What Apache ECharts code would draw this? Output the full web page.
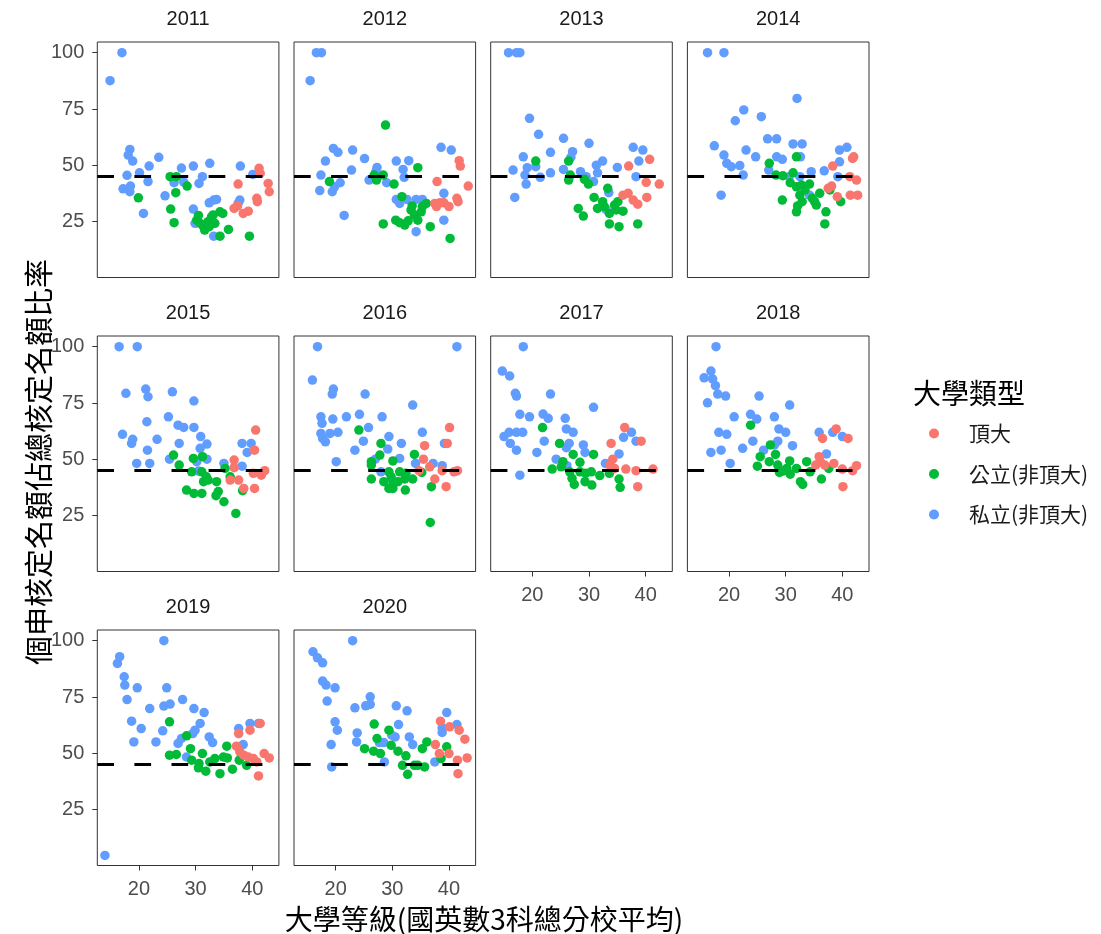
<!DOCTYPE html>
<html><head><meta charset="utf-8">
<script src="https://cdn.jsdelivr.net/npm/echarts@6/dist/echarts.min.js"></script>
<style>html,body{margin:0;padding:0;background:#fff}#c{width:1101px;height:934px}</style>
</head><body><div id="c"></div>
<script>
const years = [2011,2012,2013,2014,2015,2016,2017,2018,2019,2020];
const typeNames = ['頂大','公立(非頂大)','私立(非頂大)'];
const typeColors = ['#F8766D','#00BA38','#619CFF'];
const xTicks = [20,30,40];
const yTicks = [25,50,75,100];
const refLine = 45;
const xTitle = '大學等級(國英數3科總分校平均)';
const yTitle = '個申核定名額佔總核定名額比率';
const legendTitle = '大學類型';

const top2011 = [[36.8,30.9],[37.5,41.7],[38.4,28.7],[39.3,29.7],[41.2,48.7],[41.4,46.4],[42.8,42.0],[43.0,38.3],[40.8,35.4],[40.9,33.9],[37.4,32.0]];
const pub2011 = [[25.5,45],[26.6,45],[19.9,35.6],[25.6,30.6],[26.5,37.9],[26.2,24.6],[28.5,40.8],[30.5,27.8],[30.2,25.7],[30.8,24.3],[31.4,22.8],[31.6,21.3],[32.2,25.0],[32.8,27.2],[33.1,28.0],[32.4,22.8],[33.4,24.3],[34.3,29.4],[34.8,28.7],[34.3,18.6],[35.8,21.6],[39.5,18.6]];
const priv2011 = [[14.9,87.6],[17.0,100],[18.4,57.1],[18.1,54.6],[18.9,51.9],[17.9,45.6],[17.2,39.6],[18.5,40.8],[18.4,38.3],[20.1,46.7],[21.6,42.8],[21.8,49.7],[20.8,28.7],[23.5,53.6],[24.6,36.5],[26.2,42.3],[27.5,48.8],[27.9,42.6],[29.6,49.7],[29.6,30.6],[29.9,24.3],[31.2,45.0],[30.6,42.0],[32.5,50.9],[32.4,33.4],[33.2,34.6],[33.7,34.9],[33.2,18.6],[37.9,49.7],[37.8,34.6],[37.5,33.1],[40.1,46.0]];

const top2012 = [[41.8,52.1],[42.0,49.7],[43.4,40.8],[37.9,42.8],[37.5,33.1],[37.8,31.7],[39.1,33.4],[40.0,31.7],[41.4,35.4],[41.6,33.9],[38.4,33.4]];
const pub2012 = [[28.8,67.9],[18.9,42.8],[26.8,45.7],[28.4,45.7],[27.2,43.5],[30.3,41.7],[34.5,49.0],[31.7,36.1],[28.4,24.0],[30.6,25.7],[31.3,24.6],[32.2,23.5],[32.8,25.4],[33.3,30.2],[33.9,28.0],[34.5,25.7],[35.1,29.4],[35.3,31.7],[36.0,33.1],[36.7,22.8],[40.2,17.6],[33.5,32.0]];
const priv2012 = [[16.6,100],[17.5,100],[15.5,87.6],[19.6,57.5],[20.4,55.8],[23.0,56.8],[18.2,51.9],[17.4,45.7],[17.2,38.8],[19.4,38.3],[19.8,40.5],[20.8,42.3],[22.8,47.9],[25.1,53.0],[21.5,27.8],[27.3,49.1],[27.1,47.2],[25.9,43.5],[29.0,42.3],[30.7,51.9],[32.9,52.1],[31.9,48.2],[32.1,44.7],[30.7,34.9],[31.3,33.1],[32.6,34.9],[34.2,34.9],[35.3,34.9],[34.2,20.6],[38.6,58.0],[40.4,56.8],[39.1,37.6],[39.1,25.7]];

const top2013 = [[37.0,49.7],[40.7,52.7],[40.1,42.5],[42.4,41.7],[36.0,36.8],[36.9,37.6],[37.8,34.6],[38.6,32.8],[40.2,35.8]];
const pub2013 = [[20.6,51.9],[26.4,51.9],[26.7,45.7],[26.4,43.5],[29.2,43.8],[29.9,41.7],[28.1,30.9],[29.0,27.5],[30.9,35.8],[31.5,30.9],[32.4,33.9],[33.3,39.8],[33.6,28.7],[34.5,32.4],[35.1,33.9],[34.8,30.2],[36.0,29.7],[33.6,24.0],[35.3,22.8],[38.6,24.0],[32.7,31.7]];
const priv2013 = [[15.8,100],[17.2,100],[17.8,100],[19.5,70.9],[21.1,63.8],[25.5,62.0],[30.0,59.8],[27.1,56.1],[26.8,53.6],[23.2,55.8],[18.4,53.8],[16.6,47.9],[19.1,49.0],[20.6,49.4],[18.7,45.7],[18.9,41.7],[21.4,44.7],[23.2,46.7],[25.5,48.2],[16.9,35.8],[28.5,47.2],[29.5,45.0],[30.8,42.8],[31.3,50.1],[32.4,51.9],[31.5,46.7],[35.0,49.1],[33.5,37.9],[33.0,30.5],[37.8,58.0],[39.5,56.8],[38.8,51.9],[38.3,45.0]];

const top2014 = [[38.3,49.7],[41.8,53.1],[42.0,53.8],[41.3,45.0],[42.5,43.5],[37.5,39.8],[38.1,40.8],[39.1,36.1],[41.4,36.8],[42.7,36.8]];
const pub2014 = [[27.1,50.9],[31.9,53.8],[28.3,45.7],[29.5,45.4],[31.3,46.7],[30.8,42.3],[31.9,40.5],[32.8,41.3],[33.4,39.1],[34.2,41.7],[32.5,36.8],[29.4,34.6],[32.9,33.9],[32.1,32.0],[31.9,29.4],[35.1,33.9],[35.4,32.4],[36.0,37.6],[34.7,35.4],[37.1,29.4],[36.9,24.0],[39.7,33.9],[37.8,39.1]];
const priv2014 = [[16.2,100],[19.1,100],[32.0,79.7],[22.6,74.6],[21.1,69.8],[25.7,71.6],[26.8,61.8],[28.4,61.8],[31.3,59.5],[32.9,59.5],[17.4,58.7],[19.1,54.6],[23.0,56.8],[24.7,53.8],[19.6,50.9],[20.4,49.4],[21.9,49.9],[22.5,45.7],[18.6,36.8],[28.4,53.8],[29.4,52.7],[32.6,53.8],[27.0,47.9],[30.6,45.0],[32.5,45.0],[34.5,47.2],[36.8,47.6],[34.2,36.8],[39.5,56.8],[40.8,58.0],[39.5,51.6],[39.2,45.0]];

const top2015 = [[36.8,49.7],[36.1,40.8],[37.6,40.8],[36.8,46.3],[40.6,63.0],[40.4,54.1],[40.2,43.8],[41.6,43.0],[42.2,45.0],[40.4,37.1],[38.5,37.1]];
const pub2015 = [[26.1,51.9],[27.1,47.5],[29.6,50.4],[31.2,51.2],[31.1,44.5],[31.4,40.1],[32.2,40.8],[31.9,42.3],[33.7,40.1],[28.4,36.4],[29.7,34.9],[31.1,34.9],[34.0,35.7],[33.6,33.9],[35.0,31.2],[35.2,46.0],[36.1,42.3],[37.1,26.0],[38.3,36.1],[29.3,44.5]];
const priv2015 = [[16.5,100],[19.7,100],[17.7,79.3],[21.2,81.2],[21.6,77.8],[25.9,80.0],[29.7,75.9],[17.1,61.1],[18.9,58.9],[18.7,57.1],[21.4,66.7],[23.2,58.9],[21.5,54.1],[19.6,48.2],[21.9,48.2],[25.2,68.9],[26.9,65.2],[27.9,64.2],[29.7,64.2],[27.1,57.1],[25.4,50.1],[30.9,60.1],[30.8,54.9],[32.0,56.8],[32.0,50.1],[30.2,49.0],[30.5,44.8],[35.0,48.2],[38.2,57.1],[39.8,57.1],[39.1,53.1],[38.2,47.0]];

const top2016 = [[40.1,64.1],[35.7,56.1],[39.7,57.1],[35.5,50.1],[34.7,45.0],[36.6,46.7],[38.8,45.0],[40.9,44.5],[41.5,45.0],[37.5,41.3],[39.5,37.9]];
const pub2016 = [[24.1,63.0],[28.0,57.1],[27.8,51.9],[26.3,49.0],[26.3,47.5],[30.1,49.3],[33.9,52.2],[26.3,41.3],[28.5,40.1],[29.4,44.5],[29.8,42.3],[31.3,44.5],[32.4,43.8],[29.4,37.1],[30.1,37.1],[30.1,40.1],[31.0,40.1],[32.2,41.3],[32.3,36.4],[33.6,41.3],[35.2,44.2],[36.9,37.9],[36.7,22.0]];
const priv2016 = [[16.8,100],[41.4,100],[15.9,85.2],[19.6,81.2],[19.4,79.0],[25.2,79.0],[33.6,74.1],[17.4,68.9],[17.6,66.0],[19.5,67.9],[21.9,68.9],[24.2,70.0],[28.2,68.9],[25.8,64.1],[17.4,61.5],[17.7,59.3],[19.0,61.5],[20.4,62.0],[18.2,57.8],[24.9,58.1],[23.4,54.1],[20.1,49.0],[29.4,60.1],[31.6,57.1],[29.2,54.6],[27.0,50.1],[28.0,44.5],[31.3,50.4],[35.3,62.0],[34.1,48.2],[37.2,48.2],[38.8,47.2],[39.2,57.1]];

const top2017 = [[36.3,64.1],[39.2,58.1],[33.9,57.1],[34.2,50.1],[33.7,47.5],[34.5,46.0],[36.5,45.7],[38.3,45.0],[41.3,45.7],[38.6,37.9]];
const pub2017 = [[21.8,64.1],[24.8,57.1],[25.4,49.0],[23.5,45.7],[27.2,52.2],[30.8,52.2],[28.4,48.7],[26.6,44.5],[27.0,41.6],[27.4,38.9],[28.4,44.5],[29.4,43.8],[30.4,44.5],[29.3,40.1],[30.5,38.6],[31.9,42.8],[33.6,43.8],[35.3,41.3],[35.5,37.6],[25.1,46.7]];
const priv2017 = [[18.4,100],[14.7,89.2],[16.0,87.0],[17.0,79.3],[17.2,78.1],[23.2,79.0],[30.8,73.1],[17.8,70.0],[19.5,68.9],[21.9,70.1],[22.8,68.2],[25.8,68.2],[15.0,60.1],[15.9,62.0],[17.2,62.0],[18.3,62.0],[16.1,57.1],[17.2,54.1],[22.1,58.1],[20.8,53.1],[17.8,43.0],[26.0,63.5],[27.2,62.0],[26.5,57.1],[26.0,55.2],[24.2,50.1],[29.0,56.4],[29.3,53.1],[26.1,47.2],[36.1,59.8],[37.5,62.0],[38.3,58.1],[35.3,52.4],[32.9,48.2]];

const top2018 = [[38.9,63.5],[36.5,59.3],[41.0,59.3],[35.9,51.2],[36.1,49.0],[36.9,47.5],[38.5,48.2],[40.0,45.7],[41.8,45.0],[42.5,47.2],[40.1,37.9],[35.3,47.5]];
const pub2018 = [[23.8,65.2],[27.3,56.4],[25.5,51.2],[28.2,52.2],[27.1,49.0],[25.0,47.0],[28.6,47.5],[28.9,44.2],[30.7,49.3],[30.2,46.0],[30.8,43.4],[31.9,46.0],[32.6,40.1],[33.0,38.9],[33.7,49.0],[34.3,44.5],[36.3,41.3],[37.6,46.0],[29.5,44.8]];
const priv2018 = [[17.7,100],[15.6,86.2],[16.8,89.2],[17.1,85.7],[17.6,82.7],[18.0,79.0],[19.4,78.1],[25.3,78.1],[16.2,75.1],[30.7,74.1],[20.9,68.9],[23.8,70.0],[24.9,67.9],[28.0,68.9],[18.2,62.0],[19.6,61.1],[28.8,63.5],[30.0,62.0],[24.2,58.1],[22.4,54.9],[16.8,53.1],[18.6,54.1],[20.2,48.2],[28.6,58.1],[28.0,56.4],[26.1,54.1],[31.2,56.1],[35.9,62.0],[38.3,62.0],[40.0,60.1],[37.2,52.4]];

const top2019 = [[37.2,53.2],[37.6,58.8],[39.6,60.3],[41.4,63.3],[37.8,50.7],[38.5,49.2],[39.3,48.4],[40.2,47.7],[42.1,49.9],[43.0,48.0],[41.1,40.0],[40.8,46.2]];
const pub2019 = [[25.4,64.0],[25.4,49.2],[26.6,49.5],[28.4,57.8],[29.1,52.1],[29.3,47.0],[30.6,45.5],[31.2,49.9],[30.5,43.6],[31.8,42.1],[32.5,46.2],[33.4,47.7],[34.3,41.0],[34.9,48.4],[35.5,53.2],[35.6,48.0],[36.5,43.0],[39.0,44.7],[37.7,47.0]];
const priv2019 = [[24.4,100],[14.0,4.7],[16.2,89.9],[16.6,92.9],[17.4,84.0],[17.5,80.3],[17.9,73.9],[19.7,79.1],[24.9,79.1],[18.7,64.3],[19.1,55.1],[20.4,61.0],[21.9,69.9],[24.4,71.0],[25.5,71.9],[27.7,73.9],[23.0,55.1],[24.2,60.0],[29.7,69.9],[31.5,68.1],[30.8,63.3],[29.9,60.3],[29.5,58.8],[32.4,57.3],[33.0,54.8],[27.5,56.6],[26.9,54.4],[28.4,48.4],[37.6,61.0],[38.4,53.9],[39.6,63.3],[41.1,63.3]];

const top2020 = [[38.5,64.3],[40.1,61.8],[41.8,60.3],[42.8,56.3],[37.6,53.9],[38.3,49.9],[40.0,49.9],[43.2,48.0],[41.5,47.0],[41.6,41.0]];
const pub2020 = [[26.8,63.0],[29.4,60.3],[27.3,56.6],[25.1,52.1],[26.7,51.0],[27.9,49.9],[29.8,53.6],[31.0,51.0],[32.4,48.9],[31.8,44.7],[32.7,40.7],[33.9,44.7],[34.5,44.7],[35.3,52.1],[36.1,55.1],[35.7,44.0],[38.6,47.7],[39.6,52.9]];
const priv2020 = [[23.0,100],[16.0,95.1],[16.8,92.4],[17.7,90.2],[17.7,82.1],[18.3,80.3],[19.9,79.1],[18.5,73.2],[23.4,70.2],[25.3,71.1],[26.1,75.1],[26.1,71.7],[30.7,71.1],[32.6,68.9],[19.9,64.0],[20.3,60.3],[19.2,53.9],[19.3,44.0],[23.8,59.1],[23.7,55.1],[27.7,54.8],[28.5,54.8],[29.9,58.1],[31.1,62.8],[30.5,57.3],[33.0,57.3],[33.6,53.9],[28.6,46.2],[39.6,68.1],[41.4,62.8],[38.8,61.3],[38.8,59.3],[37.5,46.2]];

const topByYear  = [top2011,top2012,top2013,top2014,top2015,top2016,top2017,top2018,top2019,top2020];
const pubByYear  = [pub2011,pub2012,pub2013,pub2014,pub2015,pub2016,pub2017,pub2018,pub2019,pub2020];
const privByYear = [priv2011,priv2012,priv2013,priv2014,priv2015,priv2016,priv2017,priv2018,priv2019,priv2020];

const chart = echarts.init(document.getElementById('c'), null, {renderer:'canvas'});
const L0 = 97.3, DX = 196.7, W = 181.6, T0 = 42, DY = 294, H = 235.5;
const X_MIN = 12.65, X_MAX = 44.7, Y_MIN = 0.25, Y_MAX = 104.75;
const NUM_FONT = '"Liberation Sans", Arial, sans-serif';
const CJK_FONT = '"Noto Sans CJK TC", "Noto Sans CJK SC", sans-serif';

const grids = [], xAxes = [], yAxes = [], series = [], graphics = [];
years.forEach((yr, i) => {
  const r = Math.floor(i / 4), c = i % 4;
  const left = L0 + c * DX, top = T0 + r * DY;
  grids.push({left: left, top: top, width: W, height: H, show: true, borderColor: '#333333', borderWidth: 1,
              containLabel: false, outerBoundsMode: 'none'});
  const showX = i >= 6, showY = c === 0;
  xAxes.push({gridIndex: i, type: 'value', min: X_MIN, max: X_MAX,
    splitLine: {show: false}, axisLine: {show: false, onZero: false},
    axisTick: {show: showX, customValues: xTicks, length: 5, lineStyle: {color: '#333333', width: 1}},
    axisLabel: {show: showX, customValues: xTicks, margin: 14, fontSize: 20, color: '#4D4D4D', fontFamily: NUM_FONT}});
  yAxes.push({gridIndex: i, type: 'value', min: Y_MIN, max: Y_MAX,
    splitLine: {show: false}, axisLine: {show: false, onZero: false},
    axisTick: {show: showY, customValues: yTicks, length: 5, lineStyle: {color: '#333333', width: 1}},
    axisLabel: {show: showY, customValues: yTicks, margin: 13, fontSize: 20, color: '#4D4D4D', fontFamily: NUM_FONT}});
  const groups = [[privByYear[i], 2], [pubByYear[i], 1], [topByYear[i], 0]];
  groups.forEach(([d, k], j) => {
    const s = {type: 'scatter', name: typeNames[k], xAxisIndex: i, yAxisIndex: i, data: d,
      symbol: 'circle', symbolSize: 9.5, itemStyle: {color: typeColors[k], opacity: 1}, z: 2 + j, silent: true};
    if (j === 2) {
      s.markLine = {silent: true, symbol: ['none','none'], label: {show: false}, z: 10,
        lineStyle: {color: '#000000', type: [16.7, 20.4], width: 2.8}, data: [{yAxis: refLine}]};
    }
    series.push(s);
  });
  graphics.push({type: 'text', x: left + W / 2, y: top - 22.5,
    style: {text: String(yr), align: 'center', verticalAlign: 'middle', fontSize: 20, fontFamily: NUM_FONT, fill: '#1A1A1A'}});
});

graphics.push({type: 'text', x: 484, y: 919,
  style: {text: xTitle, align: 'center', verticalAlign: 'middle', fontSize: 28, fontFamily: CJK_FONT, fill: '#000'}});
graphics.push({type: 'text', x: 39, y: 462, rotation: Math.PI / 2,
  style: {text: yTitle, align: 'center', verticalAlign: 'middle', fontSize: 29, fontFamily: CJK_FONT, fill: '#000'}});
graphics.push({type: 'text', x: 913, y: 393,
  style: {text: legendTitle, align: 'left', verticalAlign: 'middle', fontSize: 28, fontFamily: CJK_FONT, fill: '#000'}});

chart.setOption({
  animation: false,
  backgroundColor: '#ffffff',
  grid: grids, xAxis: xAxes, yAxis: yAxes, series: series,
  legend: {data: typeNames, orient: 'vertical', left: 924, top: 416.5, icon: 'circle',
    itemWidth: 60, itemHeight: 10, itemGap: 16.5, selectedMode: false,
    textStyle: {fontSize: 21, lineHeight: 24, fontFamily: CJK_FONT, color: '#1A1A1A'}},
  graphic: graphics
});
</script></body></html>
